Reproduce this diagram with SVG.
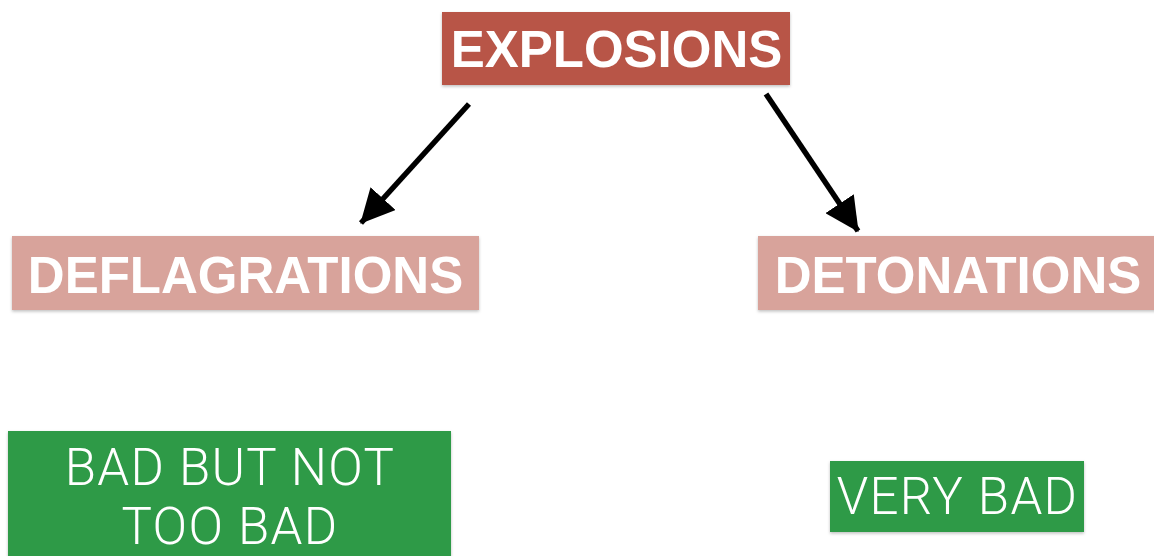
<svg xmlns="http://www.w3.org/2000/svg" width="1154" height="556" viewBox="0 0 1154 556">
  <style>
    .bold { font-family: "Liberation Sans", Arial, sans-serif; font-weight: bold; font-size: 51px; fill: #ffffff; text-anchor: middle; }
    .light { font-family: Roboto, "Open Sans", sans-serif; font-weight: 300; font-size: 51px; letter-spacing: 1.3px; fill: #ffffff; text-anchor: middle; }
    .red { fill: #b85546; }
    .pink { fill: #d8a39b; }
    .green { fill: #2f9a46; }
    .conn { stroke: #000000; stroke-width: 5.5; fill: none; marker-end: url(#arrow); }
  </style>
  <defs>
    <filter id="shadow" x="-5%" y="-10%" width="110%" height="130%">
      <feDropShadow dx="0" dy="1.5" stdDeviation="1.5" flood-color="#000000" flood-opacity="0.25"/>
    </filter>
    <marker id="arrow" markerUnits="userSpaceOnUse" markerWidth="34" markerHeight="34" viewBox="0 0 32 32" refX="31" refY="16" orient="auto">
      <path d="M0,0 L32,16 L0,32 Z" fill="#000000"/>
    </marker>
  </defs>
  <rect width="1154" height="556" fill="#ffffff"/>
  <g id="connectors">
    <line class="conn" x1="469" y1="104" x2="361" y2="223"/>
    <line class="conn" x1="766" y1="94" x2="858" y2="231"/>
  </g>
  <g id="explosions">
    <rect class="red" x="442" y="12" width="348" height="73" filter="url(#shadow)"/>
    <text class="bold" x="616.5" y="67">EXPLOSIONS</text>
  </g>
  <g id="deflagrations">
    <rect class="pink" x="12" y="236" width="467" height="74" filter="url(#shadow)"/>
    <text class="bold" x="245.5" y="292.5">DEFLAGRATIONS</text>
  </g>
  <g id="detonations">
    <rect class="pink" x="758" y="236" width="400" height="74" filter="url(#shadow)"/>
    <text class="bold" x="958" y="292.5">DETONATIONS</text>
  </g>
  <g id="bad-but-not-too-bad">
    <rect class="green" x="8" y="431" width="443" height="130" filter="url(#shadow)"/>
    <text class="light" x="230" y="485">BAD BUT NOT</text>
    <text class="light" x="230" y="544.3">TOO BAD</text>
  </g>
  <g id="very-bad">
    <rect class="green" x="830" y="461" width="254" height="71" filter="url(#shadow)"/>
    <text class="light" x="957.5" y="514.3">VERY BAD</text>
  </g>
</svg>
